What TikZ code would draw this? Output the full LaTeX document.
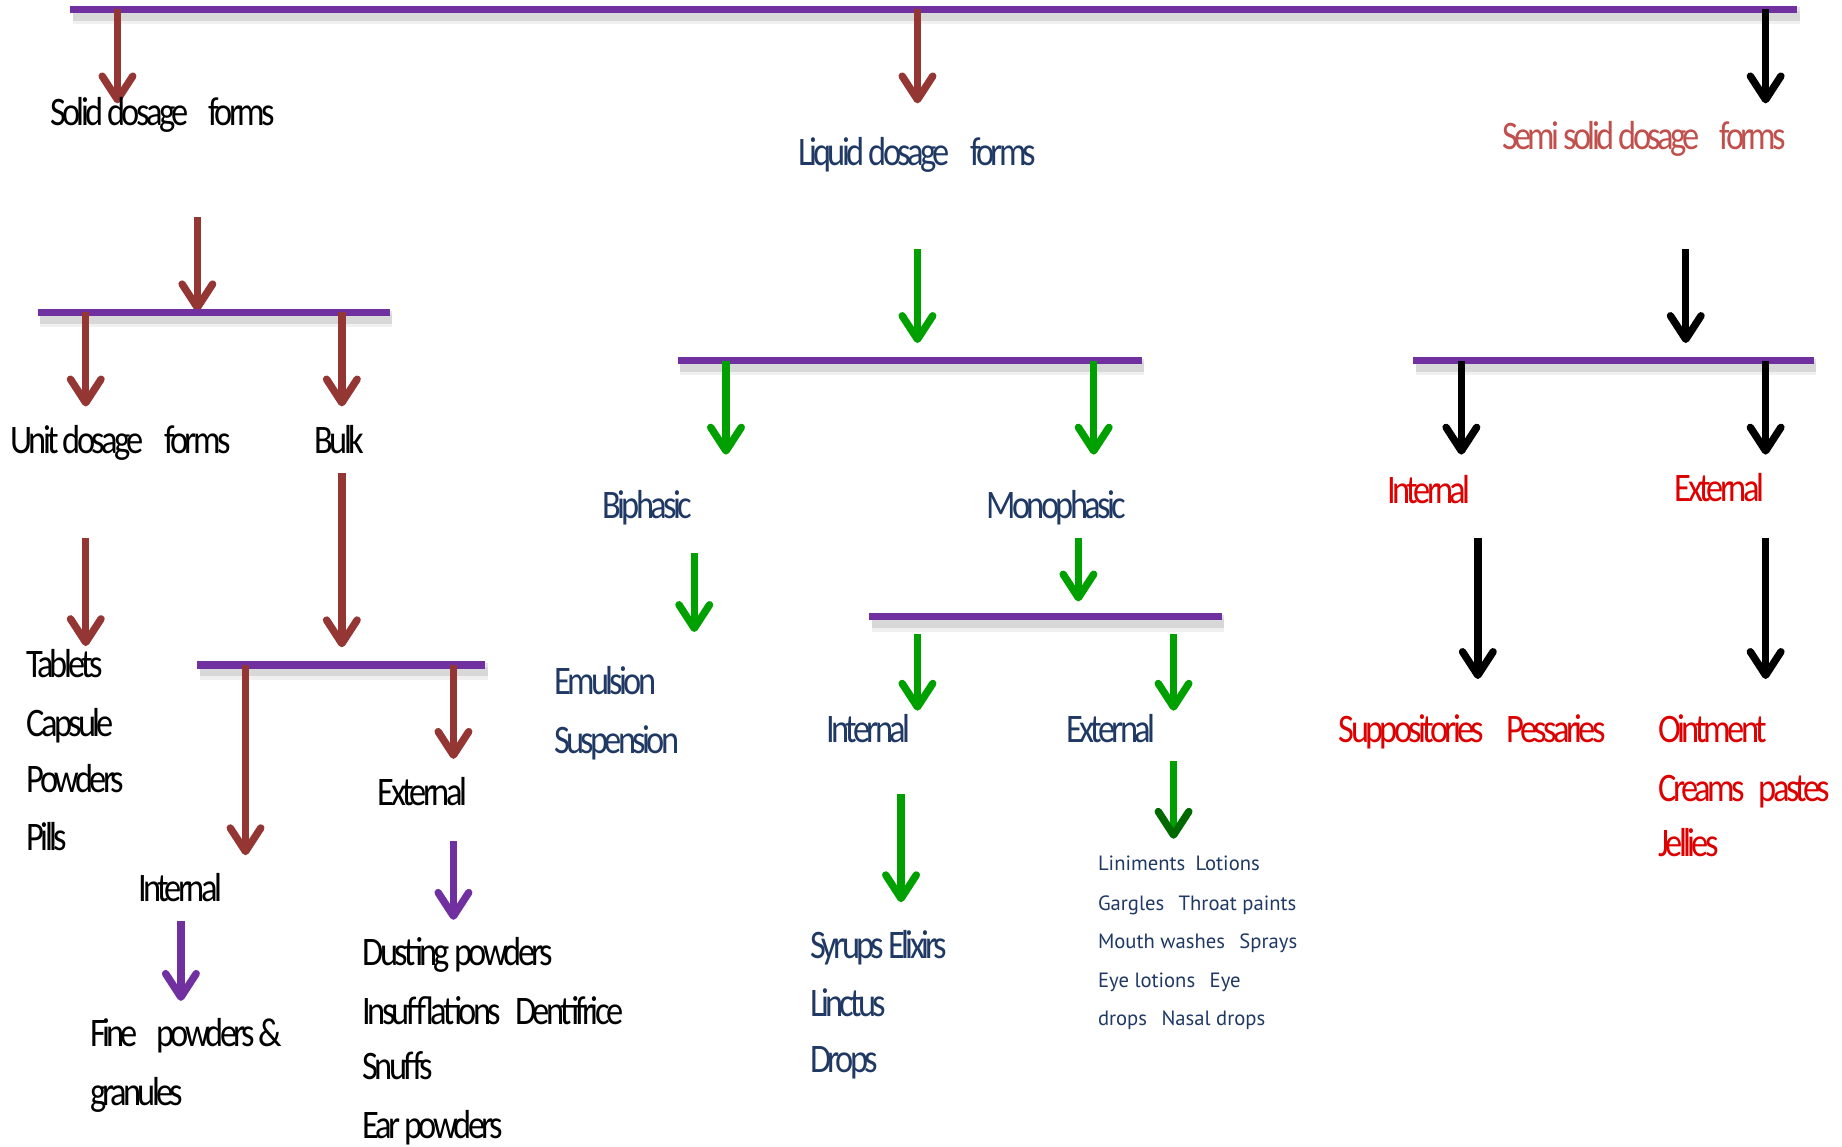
\documentclass[tikz,border=0pt]{standalone}
\usepackage{fontspec}
\usetikzlibrary{arrows.meta}
\newfontfamily\labelfont{Carlito}[LetterSpace=-9,FakeStretch=0.85]
\newfontfamily\smallfont{PT Sans}
\definecolor{barpurple}{HTML}{7030A0}
\definecolor{brownred}{HTML}{943634}
\definecolor{leafgreen}{HTML}{00A000}
\definecolor{darkleaf}{HTML}{006A00}
\definecolor{navy}{HTML}{1F3864}
\definecolor{rosered}{HTML}{C0504D}
\definecolor{brightred}{HTML}{DD0000}
% a horizontal bracket bar with a soft shadow: name, x1, x2, y
\newcommand\flowbar[4]{%
  \draw[barshadow] (#2+2,#4+4) -- (#3+2,#4+4);
  \draw[barshadow, opacity=0.06] (#2+2,#4+7) -- (#3+2,#4+7);
  \coordinate (#1L) at (#2,#4);
  \coordinate (#1R) at (#3,#4);
  \draw[bar] (#1L) -- (#1R);}
% a downward arrow: name, colour/style, x, y start, y end
\newcommand\flowarrow[5]{%
  \coordinate (#1s) at (#3,#4);
  \coordinate (#1e) at (#3,#5);
  \draw[arr,#2] (#1s) -- (#1e);}
\begin{document}
\begin{tikzpicture}[x=0.01cm,y=-0.01cm,
  bar/.style={line width=1.8pt, barpurple},
  barshadow/.style={line width=3.2pt, black, opacity=0.10},
  arr/.style={line width=1.8pt,
    -{Straight Barb[length=0.2cm,width=0.26cm,line width=1.8pt,round]}},
  lbl/.style={anchor=base west, inner sep=0pt,
    font=\labelfont\fontsize{9.8}{12}\selectfont},
  small/.style={anchor=base west, inner sep=0pt,
    font=\smallfont\fontsize{5.0}{7}\selectfont, text=navy},
  solidtxt/.style={lbl, text=black},
  liqtxt/.style={lbl, text=navy},
  semitxt/.style={lbl, text=brightred},
]
\useasboundingbox (0,0) rectangle (1568,976);

% ---------- top level ----------
\flowbar{top}{60}{1530}{8}
\flowarrow{tA}{brownred}{100}{8}{88}
\flowarrow{tB}{brownred}{781}{8}{88}
\flowarrow{tC}{black}{1503}{8}{88}

\node[solidtxt] (solid) at (42,107) {Solid dosage\hspace{0.5em}forms};
\node[liqtxt] (liquid) at (679,141) {Liquid dosage\hspace{0.5em}forms};
\node[lbl, text=rosered] (semi) at (1278,127) {Semi solid dosage\hspace{0.5em}forms};

% ---------- solid dosage forms ----------
\flowarrow{s1}{brownred}{168}{185}{265}
\flowbar{sbar}{32}{332}{266}
\flowarrow{s2}{brownred}{73}{266}{346}
\flowarrow{s3}{brownred}{291}{266}{346}
\node[solidtxt] (unit) at (8,386) {Unit dosage\hspace{0.5em}forms};
\node[solidtxt] (bulk) at (267,386) {Bulk};
\flowarrow{s4}{brownred}{73}{458}{550}
\flowarrow{s5}{brownred}{291}{403}{551}
\node[solidtxt] (tab) at (22,577) {Tablets};
\node[solidtxt] (cap) at (22,627) {Capsule};
\node[solidtxt] (pow) at (22,675) {Powders};
\node[solidtxt] (pil) at (22,724) {Pills};
\flowbar{bbar}{168}{413}{566}
\flowarrow{s6}{brownred}{209}{566}{728}
\flowarrow{s7}{brownred}{386}{566}{646}
\node[solidtxt] (bext) at (321,686) {External};
\node[solidtxt] (bint) at (117,767) {Internal};
\flowarrow{s8}{barpurple}{386}{716}{783}
\flowarrow{s9}{barpurple}{154}{784}{852}
\node[solidtxt] (fine) at (76,891) {Fine\hspace{0.45em}powders \&};
\node[solidtxt] (gran) at (76,941) {granules};
\node[solidtxt] (dust) at (308,822) {Dusting powders};
\node[solidtxt] (insu) at (308,872) {Insufflations\hspace{0.35em}Dentifrice};
\node[solidtxt] (snuf) at (308,919) {Snuffs};
\node[solidtxt] (ear) at (308,969) {Ear powders};

% ---------- liquid dosage forms ----------
\flowarrow{l1}{leafgreen}{781}{212}{292}
\flowbar{lbar}{577}{972}{307}
\flowarrow{l2}{leafgreen}{618}{307}{387}
\flowarrow{l3}{leafgreen}{931}{307}{387}
\node[liqtxt] (bi) at (512,441) {Biphasic};
\node[liqtxt] (mono) at (839,441) {Monophasic};
\flowarrow{l4}{leafgreen}{591}{471}{538}
\node[liqtxt] (emu) at (471,591) {Emulsion};
\node[liqtxt] (sus) at (471,641) {Suspension};
\flowarrow{l5}{leafgreen}{918}{458}{512}
\flowbar{mbar}{740}{1040}{525}
\flowarrow{l6}{leafgreen}{781}{540}{605}
\flowarrow{l7}{leafgreen}{999}{540}{605}
\node[liqtxt] (lint) at (703,632) {Internal};
\node[liqtxt] (lext) at (907,632) {External};
\flowarrow{l8}{leafgreen}{767}{676}{768}
\coordinate (l9s) at (999,648);
\coordinate (l9e) at (999,714);
\draw[leafgreen, line width=1.8pt,
  -{Straight Barb[length=0.2cm,width=0.26cm,line width=1.8pt,round,color=darkleaf]}]
  (l9s) -- (l9e);
\node[liqtxt] (syr) at (689,816) {Syrups Elixirs};
\node[liqtxt] (lin) at (689,865) {Linctus};
\node[liqtxt] (dro) at (689,913) {Drops};
\node[small] (e1) at (934,741) {Liniments\hspace{0.5em}Lotions};
\node[small] (e2) at (934,775) {Gargles\hspace{0.7em}Throat paints};
\node[small] (e3) at (934,807) {Mouth washes\hspace{0.7em}Sprays};
\node[small] (e4) at (934,841) {Eye lotions\hspace{0.7em}Eye};
\node[small] (e5) at (934,873) {drops\hspace{0.7em}Nasal drops};

% ---------- semi solid dosage forms ----------
\flowarrow{m1}{black}{1435}{212}{292}
\flowbar{rbar}{1203}{1544}{307}
\flowarrow{m2}{black}{1244}{307}{387}
\flowarrow{m3}{black}{1503}{307}{387}
\node[semitxt] (rint) at (1180,429) {Internal};
\node[semitxt] (rext) at (1425,427) {External};
\flowarrow{m4}{black}{1258}{458}{578}
\flowarrow{m5}{black}{1503}{458}{578}
\node[semitxt] (supp) at (1139,632) {Suppositories\hspace{0.55em}Pessaries};
\node[semitxt] (oint) at (1411,632) {Ointment};
\node[semitxt] (crea) at (1411,682) {Creams\hspace{0.35em}pastes};
\node[semitxt] (jel) at (1411,729) {Jellies};
\end{tikzpicture}
\end{document}
